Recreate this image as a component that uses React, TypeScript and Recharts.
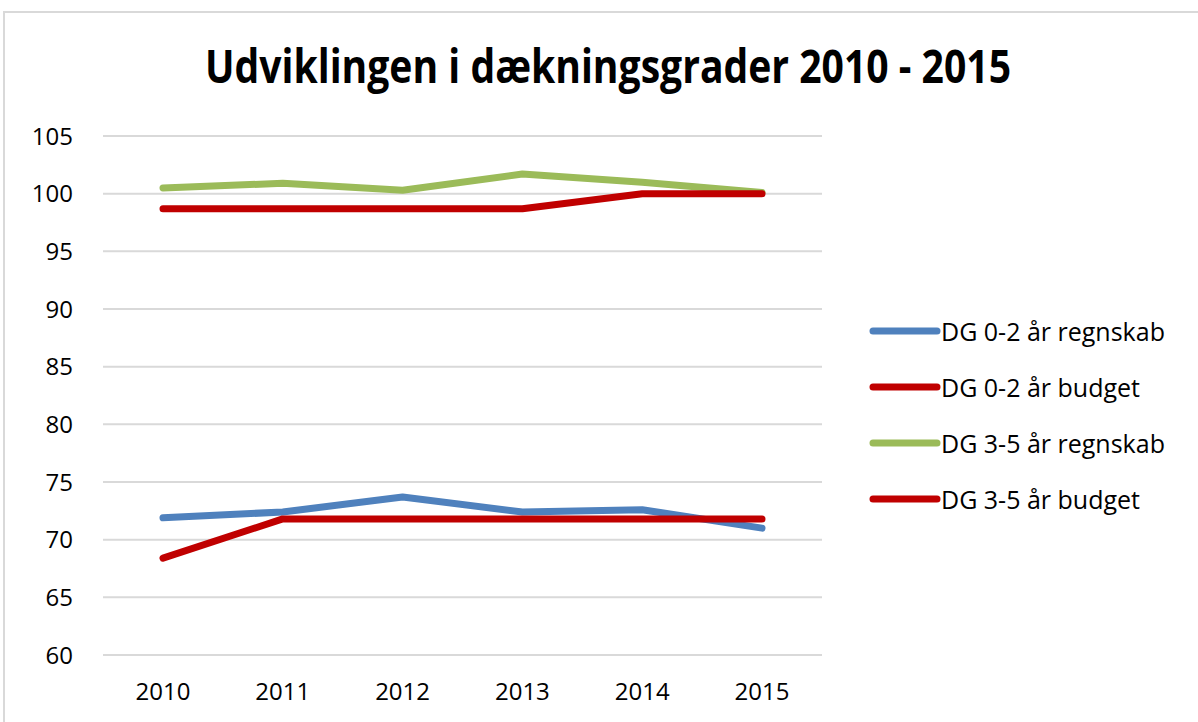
import React from 'react';
import { LineChart, Line, XAxis, YAxis, CartesianGrid } from 'recharts';

const years = ['2010', '2011', '2012', '2013', '2014', '2015'];
const dg02Regnskab = [71.9, 72.4, 73.7, 72.4, 72.6, 71.0];
const dg02Budget = [98.7, 98.7, 98.7, 98.7, 100.0, 100.0];
const dg35Regnskab = [100.5, 100.9, 100.3, 101.7, 101.0, 100.1];
const dg35Budget = [68.4, 71.8, 71.8, 71.8, 71.8, 71.8];
const yTicks = [60, 65, 70, 75, 80, 85, 90, 95, 100, 105];
const title = 'Udviklingen i dækningsgrader 2010 - 2015';

const seriesNames = ['DG 0-2 år regnskab', 'DG 0-2 år budget', 'DG 3-5 år regnskab', 'DG 3-5 år budget'];
const seriesColors = ['#4f81bd', '#c00000', '#9bbb59', '#c00000'];
const seriesKeys = ['a', 'b', 'c', 'd'];
const drawOrder = [0, 2, 1, 3];

const data = years.map((y, i) => ({
  year: y,
  a: dg02Regnskab[i],
  b: dg02Budget[i],
  c: dg35Regnskab[i],
  d: dg35Budget[i],
}));

const FONT = '"Open Sans", "Noto Sans", sans-serif';

export default function App() {
  return (
    <div style={{ position: 'absolute', left: 0, top: 0, width: 1198, height: 722, overflow: 'hidden', background: '#fff' }}>
      <div style={{ position: 'absolute', left: 3, top: 11, width: 1300, height: 800, border: '2px solid #d9d9d9' }} />
      <svg style={{ position: 'absolute', left: 0, top: 0 }} width={1198} height={110}>
        <text x={608} y={83} textAnchor="middle" fontFamily={FONT} fontWeight="bold" fontSize={47} fill="#000" textLength={806} lengthAdjust="spacingAndGlyphs">
          {title}
        </text>
      </svg>
      <div style={{ position: 'absolute', left: 0, top: 0 }}>
        <LineChart width={1198} height={722} data={data} margin={{ top: 136, right: 376, bottom: 27, left: 0 }}>
          <CartesianGrid vertical={false} stroke="#d9d9d9" strokeWidth={2} />
          <XAxis
            dataKey="year"
            axisLine={false}
            tickLine={false}
            height={40}
            tickMargin={22}
            padding={{ left: 60, right: 60 }}
            tick={{ fill: '#000', fontSize: 24, fontFamily: FONT }}
          />
          <YAxis
            domain={[60, 105]}
            ticks={yTicks}
            interval={0}
            axisLine={false}
            tickLine={false}
            width={103}
            tickMargin={24}
            tick={{ fill: '#000', fontSize: 24, fontFamily: FONT }}
          />
          {drawOrder.map((i) => (
            <Line
              key={seriesKeys[i]}
              type="linear"
              dataKey={seriesKeys[i]}
              name={seriesNames[i]}
              stroke={seriesColors[i]}
              strokeWidth={7}
              strokeLinecap="round"
              strokeLinejoin="round"
              dot={false}
              activeDot={false}
              isAnimationActive={false}
            />
          ))}
        </LineChart>
      </div>
      <div style={{ position: 'absolute', left: 865, top: 303, width: 330, fontFamily: FONT }}>
        {seriesNames.map((n, i) => (
          <div key={n} style={{ display: 'flex', alignItems: 'center', height: 56 }}>
            <svg width={76} height={10} style={{ display: 'block', flex: 'none' }}>
              <line x1={8} y1={5} x2={72} y2={5} stroke={seriesColors[i]} strokeWidth={7} strokeLinecap="round" />
            </svg>
            <span style={{ fontSize: 25, color: '#000', whiteSpace: 'nowrap', lineHeight: '30px' }}>{n}</span>
          </div>
        ))}
      </div>
    </div>
  );
}
